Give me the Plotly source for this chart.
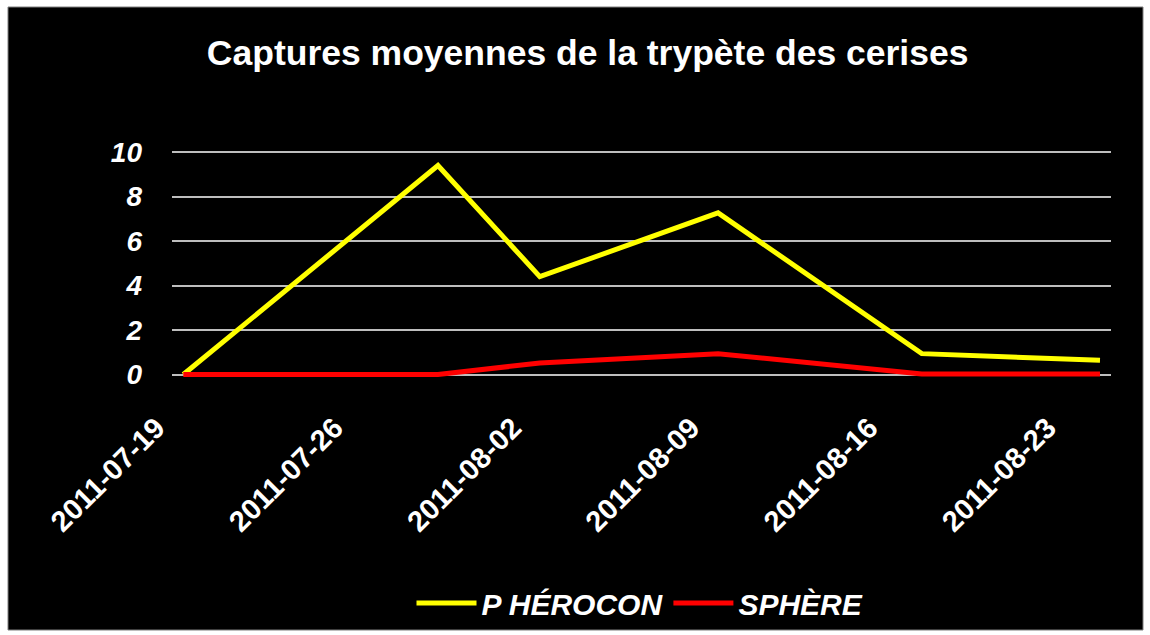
import plotly.graph_objects as go

dates = ["2011-07-19", "2011-07-29", "2011-08-02", "2011-08-09", "2011-08-17", "2011-08-24"]
pherocon = [0.0, 9.4, 4.4, 7.27, 0.94, 0.64]
sphere = [0.0, 0.0, 0.52, 0.94, 0.02, 0.02]
tick_dates = ["2011-07-19", "2011-07-26", "2011-08-02", "2011-08-09", "2011-08-16", "2011-08-23"]
tick_labels = ["2011-07-19", "2011-07-26", "2011-08-02", "2011-08-09", "2011-08-16", "2011-08-23"]
y_ticks = [0, 2, 4, 6, 8, 10]
series_names = ["P HÉROCON", "SPHÈRE"]

FONT = "Liberation Sans, Arial, sans-serif"
W, H = 1150, 635
L, R, T, B = 172, 39, 151, 256
pw, ph = W - L - R, H - T - B

def px_x(p):
    return (p - L) / pw

def px_y(p):
    return (H - B - p) / ph

fig = go.Figure()
fig.add_trace(go.Scatter(x=dates, y=pherocon, name=series_names[0], mode="lines",
                         line=dict(color="#FFFF00", width=5)))
fig.add_trace(go.Scatter(x=dates, y=sphere, name=series_names[1], mode="lines",
                         line=dict(color="#FF0000", width=5)))

fig.add_shape(type="rect", xref="paper", yref="paper", layer="below",
              x0=px_x(8), x1=px_x(1143), y0=px_y(630), y1=px_y(7),
              fillcolor="black", line=dict(color="#7f7f7f", width=1))

fig.update_layout(
    width=W, height=H,
    margin=dict(l=L, r=R, t=T, b=B),
    paper_bgcolor="white",
    plot_bgcolor="black",
    title=dict(text="Captures moyennes de la trypète des cerises",
               x=0.511, xanchor="center", xref="container",
               y=1 - 52.5 / H, yanchor="middle", yref="container",
               font=dict(family=FONT, size=35.5, color="white", weight="bold")),
    showlegend=True,
    legend=dict(orientation="h", xref="container", yref="container",
                x=640 / W, xanchor="center", y=1 - 603 / H, yanchor="middle",
                font=dict(family=FONT, size=30, color="white", weight="bold", style="italic"),
                bgcolor="rgba(0,0,0,0)", itemwidth=60),
    xaxis=dict(type="date", range=["2011-07-18 13:20", "2011-08-24 10:22"],
               tickvals=tick_dates, ticktext=tick_labels, tickangle=-45,
               showgrid=False, zeroline=False, showline=False, ticks="",
               ticklabelstandoff=25, ticklabelshift=-27,
               tickfont=dict(family=FONT, size=29, color="white", weight="bold")),
    yaxis=dict(range=[-0.2, 10.05], tickvals=y_ticks, showgrid=True,
               gridcolor="#BEBEBE", gridwidth=1.5, zeroline=False, showline=False,
               ticks="", ticklabelstandoff=29,
               tickfont=dict(family=FONT, size=28, color="white", weight="bold", style="italic")),
)

fig.write_html("out.html", config={"displayModeBar": False},
               post_script="document.body.style.margin='0';document.body.style.overflow='hidden';")
